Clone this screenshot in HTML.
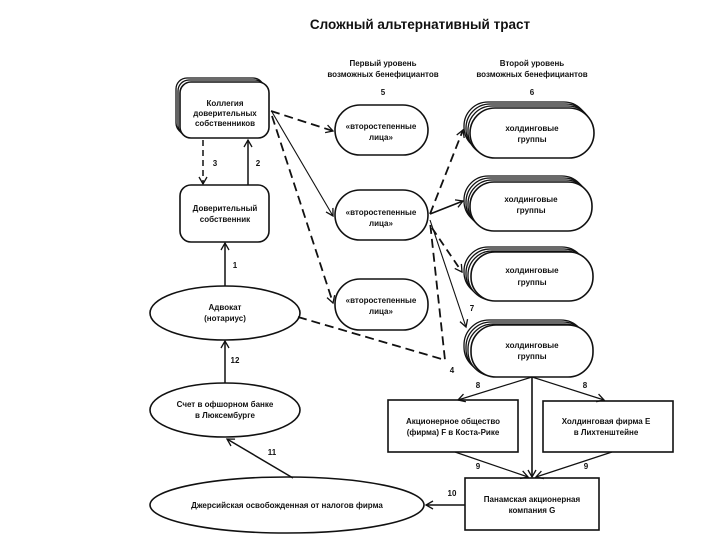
<!DOCTYPE html>
<html><head><meta charset="utf-8"><style>
html,body{margin:0;padding:0;background:#fff;}
svg{display:block;}
text{font-family:"Liberation Sans",sans-serif;font-weight:bold;fill:#111;}
.t{font-size:8px;text-anchor:middle;}
</style></head><body>
<svg width="720" height="540" viewBox="0 0 720 540" xmlns="http://www.w3.org/2000/svg">
<defs>
<marker id="a" markerWidth="10" markerHeight="10" refX="8" refY="5" orient="auto" markerUnits="userSpaceOnUse">
<path d="M1,1 L8,5 L1,9" fill="none" stroke="#111" stroke-width="1.3"/>
</marker>
</defs>
<text x="420" y="29" style="font-size:13.5px" text-anchor="middle">Сложный альтернативный траст</text>
<text class="t" x="383" y="66">Первый уровень</text>
<text class="t" x="383" y="77">возможных бенефициантов</text>
<text class="t" x="532" y="66">Второй уровень</text>
<text class="t" x="532" y="77">возможных бенефициантов</text>
<text class="t" x="383" y="95">5</text>
<text class="t" x="532" y="95">6</text>

<g stroke="#111" fill="#fff" stroke-width="1.3">
<rect x="176" y="78" width="88" height="56" rx="11"/>
<rect x="178" y="80" width="88" height="56" rx="11"/>
<rect x="180" y="82" width="89" height="56" rx="11" stroke-width="1.6"/>
<rect x="180" y="185" width="89" height="57" rx="11" stroke-width="1.6"/>
<ellipse cx="225" cy="313" rx="75" ry="27" stroke-width="1.6"/>
<ellipse cx="225" cy="410" rx="75" ry="27" stroke-width="1.6"/>
<ellipse cx="287" cy="505" rx="137" ry="28" stroke-width="1.6"/>
<rect x="335" y="105" width="93" height="50" rx="25" stroke-width="1.6"/>
<rect x="335" y="190" width="93" height="50" rx="25" stroke-width="1.6"/>
<rect x="335" y="279" width="93" height="51" rx="25" stroke-width="1.6"/>
</g>
<g stroke="#111" fill="#fff" stroke-width="1.3">
<rect x="464" y="102" width="124" height="49" rx="24"/>
<rect x="466" y="104" width="124" height="49" rx="24"/>
<rect x="468" y="106" width="124" height="50" rx="24"/>
<rect x="470" y="108" width="124" height="50" rx="25" stroke-width="1.6"/>
<rect x="464" y="176" width="122" height="49" rx="24"/>
<rect x="466" y="178" width="122" height="49" rx="24"/>
<rect x="468" y="180" width="122" height="49" rx="24"/>
<rect x="470" y="182" width="122" height="49" rx="24" stroke-width="1.6"/>
<rect x="464" y="247" width="122" height="49" rx="24"/>
<rect x="466" y="249" width="122" height="49" rx="24"/>
<rect x="468" y="251" width="122" height="49" rx="24"/>
<rect x="471" y="252" width="122" height="49" rx="24" stroke-width="1.6"/>
<rect x="464" y="320" width="122" height="52" rx="25"/>
<rect x="466" y="322" width="122" height="52" rx="25"/>
<rect x="468" y="324" width="122" height="52" rx="25"/>
<rect x="471" y="325" width="122" height="52" rx="25" stroke-width="1.6"/>
<rect x="388" y="400" width="130" height="52" stroke-width="1.6"/>
<rect x="543" y="401" width="130" height="51" stroke-width="1.6"/>
<rect x="465" y="478" width="134" height="52" stroke-width="1.6"/>
</g>

<g stroke="#111" fill="none" stroke-width="1.5">
<line x1="203" y1="140" x2="203" y2="184" stroke-dasharray="6,4" marker-end="url(#a)"/>
<line x1="248" y1="185" x2="248" y2="140" marker-end="url(#a)"/>
<line x1="225" y1="286" x2="225" y2="243" marker-end="url(#a)"/>
<line x1="225" y1="383" x2="225" y2="341" marker-end="url(#a)"/>
<line x1="293" y1="478" x2="227" y2="439" marker-end="url(#a)"/>
<line x1="465" y1="505" x2="426" y2="505" marker-end="url(#a)"/>
<line x1="271" y1="111" x2="333" y2="131" stroke-width="1.8" stroke-dasharray="9,5" marker-end="url(#a)"/>
<line x1="272" y1="112" x2="333" y2="216" stroke-width="1.1" marker-end="url(#a)"/>
<line x1="272" y1="116" x2="333" y2="303" stroke-width="1.8" stroke-dasharray="9,5" marker-end="url(#a)"/>
<polyline points="298,317 445,360 430,222" stroke-width="1.8" stroke-dasharray="9,5"/>
<line x1="430" y1="214" x2="463" y2="130" stroke-width="1.8" stroke-dasharray="9,5" marker-end="url(#a)"/>
<line x1="430" y1="214" x2="463" y2="201" stroke-width="1.6" marker-end="url(#a)"/>
<line x1="432" y1="228" x2="462" y2="272" stroke-width="1.8" stroke-dasharray="8,5" marker-end="url(#a)"/>
<line x1="430" y1="220" x2="466" y2="327" stroke-width="1.1" marker-end="url(#a)"/>
<line x1="532" y1="377" x2="458" y2="400" stroke-width="1.2" marker-end="url(#a)"/>
<line x1="532" y1="377" x2="604" y2="400" stroke-width="1.2" marker-end="url(#a)"/>
<line x1="532" y1="377" x2="532" y2="477" stroke-width="1.6" marker-end="url(#a)"/>
<line x1="455" y1="452" x2="528" y2="477" stroke-width="1.2" marker-end="url(#a)"/>
<line x1="612" y1="452" x2="536" y2="477" stroke-width="1.2" marker-end="url(#a)"/>
</g>

<text class="t" x="225" y="106">Коллегия</text>
<text class="t" x="225" y="116">доверительных</text>
<text class="t" x="225" y="126">собственников</text>
<text class="t" x="225" y="211">Доверительный</text>
<text class="t" x="225" y="222">собственник</text>
<text class="t" x="225" y="310">Адвокат</text>
<text class="t" x="225" y="321">(нотариус)</text>
<text class="t" x="225" y="407">Счет в офшорном банке</text>
<text class="t" x="225" y="418">в Люксембурге</text>
<text class="t" x="287" y="508">Джерсийская освобожденная от налогов фирма</text>
<text class="t" x="381" y="129">«второстепенные</text>
<text class="t" x="381" y="140">лица»</text>
<text class="t" x="381" y="215">«второстепенные</text>
<text class="t" x="381" y="226">лица»</text>
<text class="t" x="381" y="303">«второстепенные</text>
<text class="t" x="381" y="314">лица»</text>
<text class="t" x="532" y="131">холдинговые</text>
<text class="t" x="532" y="142">группы</text>
<text class="t" x="531" y="202">холдинговые</text>
<text class="t" x="531" y="213">группы</text>
<text class="t" x="532" y="273">холдинговые</text>
<text class="t" x="532" y="285">группы</text>
<text class="t" x="532" y="348">холдинговые</text>
<text class="t" x="532" y="359">группы</text>
<text class="t" x="453" y="424">Акционерное общество</text>
<text class="t" x="453" y="435">(фирма) F в Коста-Рике</text>
<text class="t" x="606" y="424">Холдинговая фирма E</text>
<text class="t" x="606" y="435">в Лихтенштейне</text>
<text class="t" x="532" y="502">Панамская акционерная</text>
<text class="t" x="532" y="513">компания G</text>
<text class="t" x="215" y="166">3</text>
<text class="t" x="258" y="166">2</text>
<text class="t" x="235" y="268">1</text>
<text class="t" x="235" y="363">12</text>
<text class="t" x="272" y="455">11</text>
<text class="t" x="452" y="496">10</text>
<text class="t" x="452" y="373">4</text>
<text class="t" x="472" y="311">7</text>
<text class="t" x="478" y="388">8</text>
<text class="t" x="585" y="388">8</text>
<text class="t" x="478" y="469">9</text>
<text class="t" x="586" y="469">9</text>
</svg>
</body></html>
